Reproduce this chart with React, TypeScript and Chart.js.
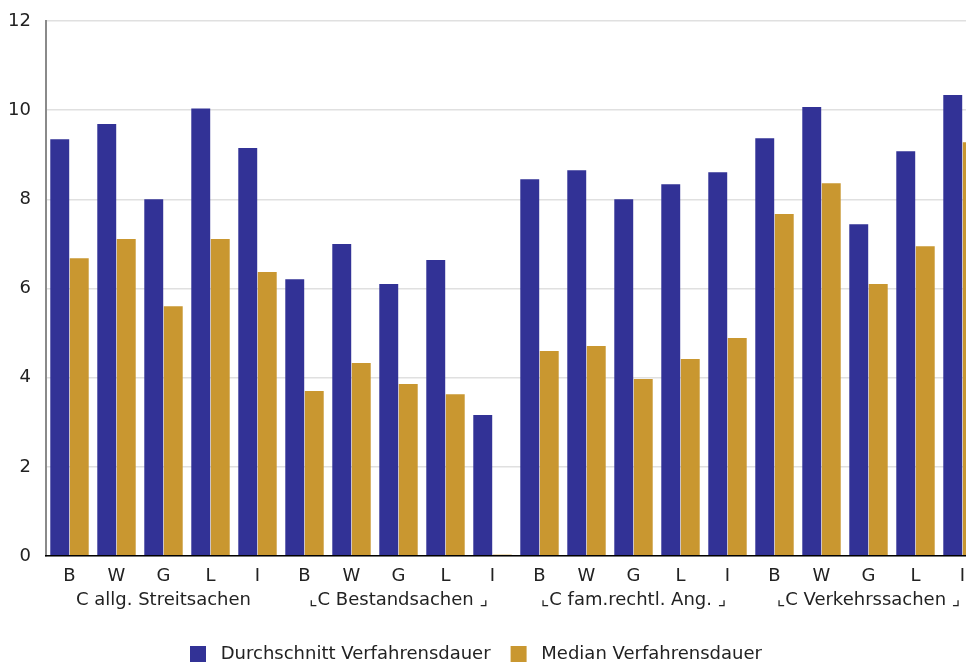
import React, { useEffect, useRef } from "react";
import { Chart, registerables } from "chart.js";

Chart.register(...registerables);

const categories = ["B", "W", "G", "L", "I", "B", "W", "G", "L", "I", "B", "W", "G", "L", "I", "B", "W", "G", "L", "I"];
const groupLabels = ["C allg. Streitsachen", "\u231EC Bestandsachen \u231F", "\u231EC fam.rechtl. Ang. \u231F", "\u231EC Verkehrssachen \u231F"];
const durchschnitt = [9.35, 9.69, 8.0, 10.04, 9.15, 6.21, 7.0, 6.1, 6.64, 3.16, 8.45, 8.65, 8.0, 8.34, 8.61, 9.37, 10.07, 7.44, 9.08, 10.34];
const median = [6.68, 7.11, 5.6, 7.11, 6.37, 3.7, 4.33, 3.86, 3.63, 0.03, 4.6, 4.71, 3.97, 4.42, 4.89, 7.67, 8.36, 6.1, 6.95, 9.28];
const seriesNames = ["Durchschnitt Verfahrensdauer", "Median Verfahrensdauer"];
const yTicks = { min: 0, max: 12, step: 2 };

const FONT = "'DejaVu Sans', Verdana, sans-serif";

export default function App() {
  const ref = useRef<HTMLCanvasElement | null>(null);

  useEffect(() => {
    document.body.style.overflow = "hidden";
    if (!ref.current) return;
    const legendShift = {
      id: "legendShift",
      afterLayout(chart: any) {
        if (chart.legend) {
          const w = chart.legend.width;
          chart.legend.left = 162;
          chart.legend.right = 162 + w;
        }
      },
    };
    const chart = new Chart(ref.current, {
      type: "bar",
      data: {
        labels: categories,
        datasets: [
          {
            label: seriesNames[0],
            data: durchschnitt,
            backgroundColor: "#323296",
            borderWidth: 0,
            categoryPercentage: 0.83,
            barPercentage: 0.97,
          },
          {
            label: seriesNames[1],
            data: median,
            backgroundColor: "#C99730",
            borderWidth: 0,
            categoryPercentage: 0.83,
            barPercentage: 0.97,
          },
        ],
      },
      options: {
        responsive: false,
        animation: false,
        devicePixelRatio: 1,
        layout: { padding: { top: 13, left: 0, right: 0, bottom: 0 } },
        plugins: {
          tooltip: { enabled: false },
          legend: {
            position: "bottom",
            align: "start",
            labels: {
              boxWidth: 16,
              boxHeight: 16,
              padding: 20,
              color: "#222",
              font: { family: FONT, size: 18 },
              generateLabels(chart: any) {
                const items = Chart.defaults.plugins.legend.labels.generateLabels(chart);
                return items.map((it: any) => ({ ...it, text: " " + it.text, lineWidth: 0 }));
              },
            },
          },
        },
        scales: {
          x: {
            type: "category",
            position: "bottom",
            grid: { display: false, drawTicks: false },
            border: { display: true, color: "#000", width: 1.5, z: 1 },
            ticks: { color: "#222", font: { family: FONT, size: 18 }, padding: 10, maxRotation: 0, autoSkip: false },
            afterFit(s: any) {
              s.height = 32;
            },
          },
          x2: {
            type: "category",
            position: "bottom",
            labels: groupLabels,
            offset: true,
            grid: { display: false, drawTicks: false },
            border: { display: false },
            ticks: { color: "#222", font: { family: FONT, size: 18 }, padding: 2, maxRotation: 0, autoSkip: false },
            afterFit(s: any) {
              s.height = 37;
            },
          },
          y: {
            min: yTicks.min,
            max: yTicks.max,
            grid: { color: "#e0e0e0", lineWidth: 1.5, drawTicks: false },
            border: { display: true, color: "#8a8a8a", width: 2 },
            ticks: { stepSize: yTicks.step, color: "#222", font: { family: FONT, size: 18 }, padding: 15 },
            afterFit(s: any) {
              s.width = 38;
              s.paddingTop = 11;
              s.paddingBottom = 0;
            },
          },
        },
      },
      plugins: [legendShift],
    } as any);
    return () => chart.destroy();
  }, []);

  return (
    <div style={{ width: 966, height: 655, overflow: "hidden" }}>
      <canvas ref={ref} width={978} height={665} style={{ display: "block" }} />
    </div>
  );
}
